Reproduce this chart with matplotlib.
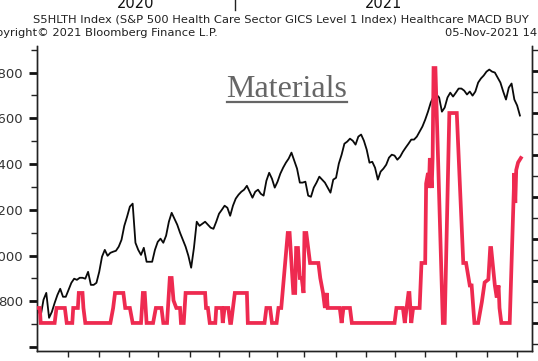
import numpy as np
import pandas as pd
import matplotlib
matplotlib.use("Agg")
import matplotlib.pyplot as plt
import matplotlib.dates as mdates
import matplotlib.transforms as mtransforms
from matplotlib.lines import Line2D
from matplotlib.ticker import MultipleLocator, FixedLocator

# S5HLTH index level, one reading every third calendar day from 3 Jun 2020
hlth_start = "2020-06-03"
hlth_close = [
    763, 737, 807, 837, 728, 754, 793, 828, 855, 820,
    820, 850, 881, 899, 894, 903, 903, 899, 929, 872,
    872, 881, 929, 995, 1025, 999, 1012, 1017, 1021, 1039,
    1069, 1130, 1170, 1214, 1227, 1056, 1025, 1003, 1034, 973,
    973, 973, 1025, 1060, 1074, 1056, 1087, 1148, 1187, 1161,
    1135, 1100, 1069, 1039, 999, 947, 1034, 1148, 1130, 1139,
    1148, 1135, 1122, 1117, 1148, 1183, 1200, 1218, 1209, 1174,
    1218, 1249, 1266, 1279, 1288, 1305, 1279, 1253, 1279, 1288,
    1270, 1262, 1327, 1362, 1336, 1297, 1323, 1358, 1384, 1406,
    1424, 1450, 1415, 1380, 1319, 1319, 1323, 1262, 1257, 1297,
    1319, 1345, 1332, 1319, 1297, 1275, 1332, 1340, 1402, 1441,
    1489, 1498, 1511, 1502, 1485, 1520, 1529, 1502, 1463, 1406,
    1410, 1384, 1332, 1367, 1380, 1397, 1428, 1441, 1437, 1419,
    1432, 1454, 1472, 1489, 1507, 1507, 1520, 1542, 1564, 1594,
    1629, 1669, 1695, 1704, 1691, 1629, 1647, 1691, 1712, 1695,
    1712, 1730, 1730, 1721, 1704, 1717, 1699, 1717, 1756, 1774,
    1787, 1804, 1813, 1804, 1800, 1778, 1756, 1717, 1682, 1734,
    1752, 1682, 1656, 1612,
]

# Healthcare MACD BUY count, at the dates where it moves
macd_dates = [
    "2020-06-03", "2020-06-05", "2020-06-06", "2020-06-21", "2020-06-23",
    "2020-07-02", "2020-07-04", "2020-07-10", "2020-07-11", "2020-07-16",
    "2020-07-17", "2020-07-21", "2020-07-22", "2020-07-24", "2020-08-20",
    "2020-08-23", "2020-08-25", "2020-09-03", "2020-09-05", "2020-09-10",
    "2020-09-13", "2020-09-22", "2020-09-24", "2020-09-26", "2020-09-28",
    "2020-10-05", "2020-10-08", "2020-10-14", "2020-10-16", "2020-10-20",
    "2020-10-21", "2020-10-23", "2020-10-25", "2020-10-27", "2020-10-30",
    "2020-11-03", "2020-11-04", "2020-11-07", "2020-11-09", "2020-11-30",
    "2020-12-01", "2020-12-03", "2020-12-05", "2020-12-11", "2020-12-12",
    "2020-12-18", "2020-12-19", "2020-12-21", "2020-12-25", "2020-12-27",
    "2020-12-28", "2021-01-01", "2021-01-14", "2021-01-15", "2021-02-02",
    "2021-02-04", "2021-02-08", "2021-02-10", "2021-02-15", "2021-02-17",
    "2021-02-20", "2021-02-27", "2021-03-01", "2021-03-05", "2021-03-07",
    "2021-03-08", "2021-03-10", "2021-03-12", "2021-03-14", "2021-03-16",
    "2021-03-17", "2021-03-19", "2021-03-23", "2021-04-01", "2021-04-03",
    "2021-04-06", "2021-04-08", "2021-04-10", "2021-04-11", "2021-04-24",
    "2021-04-26", "2021-04-28", "2021-05-05", "2021-05-07", "2021-06-22",
    "2021-06-24", "2021-07-01", "2021-07-03", "2021-07-05", "2021-07-07",
    "2021-07-08", "2021-07-10", "2021-07-12", "2021-07-19", "2021-07-21",
    "2021-07-25", "2021-07-26", "2021-07-28", "2021-07-29", "2021-07-30",
    "2021-08-01", "2021-08-02", "2021-08-03", "2021-08-05", "2021-08-13",
    "2021-08-15", "2021-08-20", "2021-08-28", "2021-09-04", "2021-09-07",
    "2021-09-11", "2021-09-13", "2021-09-16", "2021-09-20", "2021-09-24",
    "2021-09-27", "2021-10-01", "2021-10-03", "2021-10-04", "2021-10-08",
    "2021-10-10", "2021-10-12", "2021-10-13", "2021-10-15", "2021-10-24",
    "2021-10-29", "2021-10-30", "2021-10-31", "2021-11-02", "2021-11-05",
]
macd_count = [
    1, 1, 0, 0, 1,
    1, 0, 0, 1, 1,
    2, 2, 1, 0, 0,
    1, 2, 2, 1, 1,
    0, 0, 2, 2, 0,
    0, 1, 1, 0, 0,
    1, 3, 3, 1.5, 1,
    1, 0, 0, 2, 2,
    1, 1, 0, 0, 1,
    1, 0, 1, 1, 0,
    0, 2, 2, 0, 0,
    1, 1, 0, 0, 1,
    1, 6, 6, 2, 2,
    5, 5, 3, 3, 2,
    6, 6, 4, 4, 3,
    2, 1, 2, 1, 1,
    0, 1, 1, 0, 0,
    1, 1, 0, 1, 2,
    2, 0, 1, 1, 4,
    4, 9.3, 10, 9, 11,
    9, 11, 17, 17, 0,
    0, 14, 14, 4, 4,
    2.5, 2.5, 0, 0, 1.4,
    2.7, 2.9, 5, 5, 2.5,
    1.7, 2.5, 1, 0, 0,
    10, 8, 10.2, 10.7, 11,
]

left_ticks = [600, 800, 1000, 1200, 1400, 1600, 1800]
left_labels = ["", "800", "1000", "1200", "1400", "1600", "1800"]
bottom_ticks = [
    "2020-07-05", "2020-08-08", "2020-09-09", "2020-10-10", "2020-11-14",
    "2020-12-15", "2021-01-16", "2021-02-15", "2021-03-16", "2021-04-20",
    "2021-05-22", "2021-06-23", "2021-07-25", "2021-08-27", "2021-09-30",
    "2021-11-01",
]
years = ["2020", "2021"]

W, H = 538, 361


def fx(x):
    return x / W


def fy(y):
    return 1 - y / H


fig = plt.figure(figsize=(W / 100, H / 100), dpi=100)
fig.patch.set_facecolor("white")
ax = fig.add_axes([fx(37), fy(351), fx(532) - fx(37), fy(46) - fy(351)])
ax2 = ax.twinx()

hlth_dates = pd.date_range(hlth_start, periods=len(hlth_close), freq="3D")
ax.plot(hlth_dates, hlth_close, color="#0a0a0a", lw=1.3, zorder=2)
ax2.plot(pd.to_datetime(macd_dates), macd_count, color="#ee2a50", lw=2.7,
         solid_joinstyle="miter", zorder=3)

x0, x1 = pd.Timestamp("2020-06-02"), pd.Timestamp("2021-11-17")
ax.set_xlim(x0, x1)
ax.set_ylim(583, 1916)
ax2.set_ylim(-1.87, 18.47)

for a in (ax, ax2):
    a.spines["top"].set_visible(False)
    for side in ("left", "right", "bottom"):
        a.spines[side].set_color("#222222")
        a.spines[side].set_linewidth(1.0)

ax.yaxis.set_major_locator(FixedLocator(left_ticks))
ax.set_yticklabels(left_labels)
ax.yaxis.set_minor_locator(MultipleLocator(100))
ax.tick_params(axis="y", which="major", direction="out", length=6, width=2.0,
               color="#111111", labelsize=9.5, labelcolor="#333333", pad=3.6)
ax.tick_params(axis="y", which="minor", direction="out", length=4, width=1.0,
               color="#222222")

ax.xaxis.set_major_locator(FixedLocator(mdates.date2num(pd.to_datetime(bottom_ticks))))
ax.xaxis.set_minor_locator(FixedLocator([]))
ax.tick_params(axis="x", which="major", direction="out", length=4, width=1.0,
               color="#222222", labelbottom=False)

ax2.yaxis.set_major_locator(MultipleLocator(2.8))
ax2.yaxis.set_minor_locator(MultipleLocator(1.4))
ax2.tick_params(axis="y", which="major", direction="out", length=7, width=2.0,
                color="#111111", labelright=False)
ax2.tick_params(axis="y", which="minor", direction="out", length=5, width=1.0,
                color="#222222")

# header lines
fig.text(fx(33), fy(19), "S5HLTH Index (S&P 500 Health Care Sector GICS Level 1 Index) "
         "Healthcare MACD BUY", fontsize=8.25, color="#222222", va="center", ha="left")
fig.text(fx(218), fy(33), "Copyright\u00a9 2021 Bloomberg Finance L.P.", fontsize=8.25,
         color="#222222", va="center", ha="right")
fig.text(fx(445), fy(33), "05-Nov-2021 14:39:05", fontsize=8.25, color="#222222",
         va="center", ha="left")

# year strip along the top edge
blend = mtransforms.blended_transform_factory(ax.transData, fig.transFigure)
jan1 = pd.Timestamp("2021-01-01")
ax.add_artist(Line2D([mdates.date2num(jan1)] * 2, [fy(10), 1.0], transform=blend,
                     color="#222222", lw=1.0, clip_on=False))
spans = [(x0, jan1), (jan1, x1)]
for label, (a, b) in zip(years, spans):
    mid = mdates.date2num(a) + (mdates.date2num(b) - mdates.date2num(a)) / 2
    ax.text(mid, fy(8), label, transform=blend, fontsize=10.5, color="#111111",
            ha="center", va="baseline", clip_on=False)

# sector caption
cap = fig.text(fx(287), fy(97), "Materials", family="Liberation Serif", fontsize=23,
               color="#666666", ha="center", va="baseline")
fig.canvas.draw()
bb = cap.get_window_extent()
fig.add_artist(Line2D([bb.x0 / W, bb.x1 / W], [fy(102), fy(102)], color="#666666",
                      lw=1.6))

fig.savefig("out.png", dpi=100, facecolor="white")
